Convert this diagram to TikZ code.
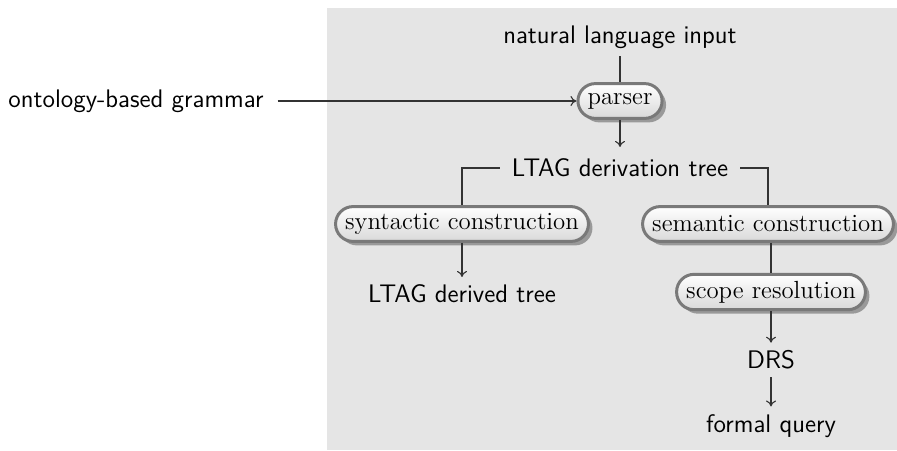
\documentclass[tikz,border=0pt]{standalone}
\usetikzlibrary{shadows,arrows.meta}
\begin{document}
\begin{tikzpicture}[x=0.5pt,y=-0.5pt,
  proc/.style={draw=gray!95!black, line width=1.5pt, rounded corners=8.7pt,
    top color=white, bottom color=gray!30, minimum height=17.4pt, inner xsep=4.8pt,
    drop shadow={shadow xshift=2pt, shadow yshift=-2pt, fill=gray!80, opacity=1},
    font=\fontsize{12.4}{14}\selectfont},
  lbl/.style={font=\sffamily\fontsize{12.7}{14}\selectfont, inner sep=2pt, outer sep=2pt},
  conn/.style={line width=0.55pt, draw=black!80},
  arr/.style={conn, -{To[length=3pt,width=5pt]}}]
  % canvas
  \useasboundingbox (0,0) rectangle (897,450);
  \fill[gray!20] (327,8) rectangle (897,450);
  % nodes
  \node[lbl] (nli) at (620,37) {natural language input};
  \node[proc] (parser) at (620,101) {parser};
  \node[lbl, outer sep=5pt] (ont) at (136,101) {ontology-based grammar};
  \node[lbl, outer sep=4pt] (ltag) at (620,168) {LTAG derivation tree};
  \node[proc] (syn) at (462,224) {syntactic construction};
  \node[lbl] (derived) at (462,294) {LTAG derived tree};
  \node[proc] (sem) at (768,224) {semantic construction};
  \node[proc] (scope) at (771,292) {scope resolution};
  \node[lbl] (drs) at (771,360) {DRS};
  \node[lbl] (fq) at (771,426) {formal query};
  % connectors
  \draw[conn] (nli) -- (parser);
  \draw[arr] (ont) -- (parser);
  \draw[arr] (parser) -- (ltag);
  \draw[conn] (ltag.west) -| (syn.north);
  \draw[conn] (ltag.east) -| (sem.north);
  \draw[arr] (syn) -- (derived);
  \draw[conn] (sem.south -| scope.north) -- (scope);
  \draw[arr] (scope) -- (drs);
  \draw[arr] (drs) -- (fq);
\end{tikzpicture}
\end{document}
